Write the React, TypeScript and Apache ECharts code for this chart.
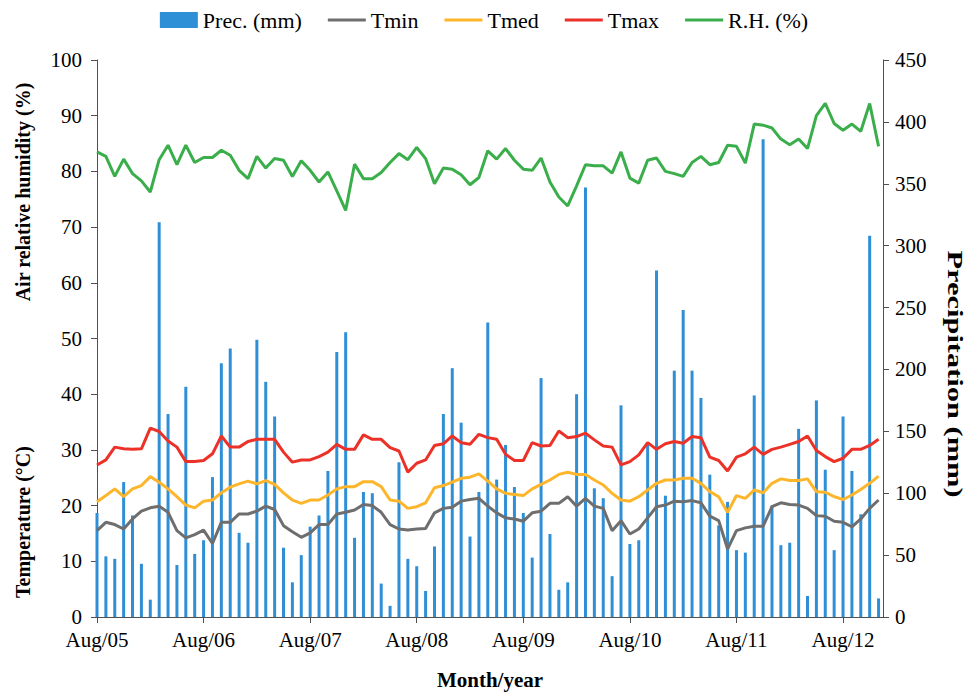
import React, { useEffect, useRef } from "react";
import * as echarts from "echarts";

// Monthly series, Aug/05 .. Dec/12 (89 months)
const precipitation = [
  84, 49, 47, 109, 82, 43, 14, 319, 164, 42, 186, 51, 62, 113, 205, 217, 68, 60, 224, 190,
  162, 56, 28, 50, 73, 82, 118, 214, 230, 64, 101, 100, 27, 9, 125, 47, 41, 21, 57, 164,
  201, 157, 65, 101, 238, 111, 139, 105, 84, 48, 193, 67, 22, 28, 180, 347, 104, 96, 33, 171,
  59, 62, 139, 280, 98, 199, 248, 199, 177, 115, 74, 93, 54, 52, 179, 386, 90, 58, 60, 152,
  17, 175, 119, 54, 162, 118, 83, 308, 15,
];
const tmin = [
  15.5, 17.0, 16.6, 15.8, 17.6, 19.0, 19.6, 19.9, 18.8, 15.5, 14.2, 14.8, 15.6, 13.2, 17.0, 17.0, 18.5, 18.5, 19.0, 19.9,
  19.3, 16.4, 15.3, 14.3, 15.1, 16.6, 16.6, 18.5, 18.8, 19.2, 20.2, 20.0, 18.8, 16.6, 15.8, 15.6, 15.8, 15.9, 18.7, 19.5,
  19.7, 20.8, 21.1, 21.3, 19.9, 18.7, 17.8, 17.6, 17.2, 18.7, 19.0, 20.4, 20.4, 21.6, 19.9, 21.3, 19.9, 19.5, 15.5, 17.3,
  14.9, 15.8, 17.8, 19.8, 20.1, 20.8, 20.7, 20.9, 20.5, 18.1, 17.3, 12.2, 15.5, 16.0, 16.3, 16.3, 19.8, 20.5, 20.2, 20.1,
  19.5, 18.2, 18.1, 17.2, 17.0, 16.2, 17.6, 19.5, 21.0,
];
const tmed = [
  20.7, 21.8, 23.0, 21.6, 23.0, 23.6, 25.2, 24.2, 23.0, 21.6, 20.1, 19.6, 20.8, 21.0, 22.3, 23.3, 23.9, 24.4, 23.9, 24.5,
  23.8, 22.3, 21.0, 20.4, 21.0, 21.0, 21.9, 23.0, 23.4, 23.4, 24.3, 24.3, 23.4, 21.0, 20.8, 19.5, 19.8, 20.5, 23.2, 23.6,
  24.2, 24.9, 25.1, 25.7, 24.4, 23.0, 22.2, 22.0, 21.8, 23.0, 23.8, 24.6, 25.6, 26.0, 25.6, 25.6, 24.6, 23.7, 22.2, 21.0,
  20.8, 21.6, 22.8, 24.0, 24.6, 24.6, 24.9, 24.9, 24.0, 22.5, 21.6, 18.8, 21.8, 21.3, 22.8, 22.3, 24.0, 24.8, 24.5, 24.5,
  24.8, 22.5, 22.4, 21.6, 21.1, 21.9, 22.9, 24.0, 25.3,
];
const tmax = [
  27.3, 28.2, 30.5, 30.2, 30.1, 30.2, 33.9, 33.3, 31.6, 30.5, 27.9, 27.9, 28.1, 29.3, 32.5, 30.5, 30.5, 31.5, 31.9, 31.9,
  31.9, 29.6, 27.8, 28.2, 28.2, 28.8, 29.6, 31.0, 30.1, 30.1, 32.7, 31.9, 31.9, 30.4, 29.8, 26.0, 27.6, 28.2, 30.8, 31.1,
  32.5, 31.3, 31.0, 32.8, 32.2, 31.9, 29.2, 28.1, 28.1, 31.3, 30.7, 30.8, 33.4, 32.2, 32.4, 33.0, 31.8, 30.7, 30.5, 27.3,
  27.9, 29.1, 31.3, 30.1, 31.1, 31.5, 31.2, 32.4, 32.2, 28.7, 28.1, 26.2, 28.7, 29.3, 30.5, 29.2, 30.1, 30.5, 31.0, 31.5,
  32.5, 29.9, 28.8, 27.9, 28.5, 30.1, 30.1, 30.8, 31.9,
];
const rh = [
  83.5, 82.7, 79.1, 82.2, 79.6, 78.3, 76.3, 82.1, 84.7, 81.2, 84.7, 81.6, 82.5, 82.5, 83.8, 82.9, 80.2, 78.7, 82.7, 80.6,
  82.3, 82.0, 79.1, 81.9, 80.2, 78.1, 79.9, 76.5, 73.0, 81.3, 78.7, 78.7, 79.8, 81.6, 83.2, 82.1, 84.3, 82.3, 77.8, 80.6,
  80.4, 79.4, 77.6, 78.9, 83.7, 82.2, 84.1, 82.0, 80.4, 80.2, 82.4, 78.1, 75.4, 73.8, 77.4, 81.2, 81.0, 81.0, 79.7, 83.5,
  78.8, 77.9, 82.0, 82.4, 80.0, 79.6, 79.1, 81.6, 82.7, 81.2, 81.6, 84.7, 84.5, 81.5, 88.5, 88.3, 87.8, 85.8, 84.8, 85.8,
  84.1, 90.0, 92.2, 88.6, 87.4, 88.5, 87.2, 92.2, 84.5,
];
const tickLabels = ["Aug/05", "Aug/06", "Aug/07", "Aug/08", "Aug/09", "Aug/10", "Aug/11", "Aug/12"];
const tickMonths = [0, 12, 24, 36, 48, 60, 72, 84];

const FONT = "'Liberation Serif', 'Times New Roman', serif";
const AXIS_COLOR = "#505050";
const LINE_ICON = "path://M0,0 L38,0 L38,3 L0,3 Z";

export default function App() {
  const ref = useRef<HTMLDivElement>(null);
  useEffect(() => {
    if (!ref.current) return;
    const chart = echarts.init(ref.current, undefined, { renderer: "svg" });
    const pairs = (arr: number[]) => arr.map((v, i) => [i, v]);
    const lineSeries = (name: string, data: number[], color: string) => ({
      name,
      type: "line",
      yAxisIndex: 0,
      data: pairs(data),
      symbol: "none",
      showSymbol: false,
      lineStyle: { width: 3, color },
      itemStyle: { color },
    });
    chart.setOption({
      animation: false,
      backgroundColor: "#ffffff",
      textStyle: { fontFamily: FONT, color: "#000" },
      legend: {
        top: 4,
        left: "center",
        itemWidth: 38,
        itemHeight: 16,
        itemGap: 26,
        selectedMode: false,
        textStyle: { fontFamily: FONT, fontSize: 22, color: "#000" },
        data: [
          { name: "Prec. (mm)", icon: "rect" },
          { name: "Tmin", icon: LINE_ICON },
          { name: "Tmed", icon: LINE_ICON },
          { name: "Tmax", icon: LINE_ICON },
          { name: "R.H. (%)", icon: LINE_ICON },
        ],
      },
      grid: { left: 97, right: 85, top: 60, bottom: 75, containLabel: false },
      xAxis: {
        type: "value",
        min: 0,
        max: 88.5,
        splitLine: { show: false },
        axisLine: { show: true, lineStyle: { color: AXIS_COLOR, width: 1 } },
        axisTick: {
          show: true,
          customValues: tickMonths,
          length: 6,
          lineStyle: { color: AXIS_COLOR },
        },
        axisLabel: {
          customValues: tickMonths,
          formatter: (v: number) => tickLabels[Math.round(v / 12)] ?? "",
          fontFamily: FONT,
          fontSize: 21,
          lineHeight: 20,
          color: "#000",
          margin: 13,
        },
        name: "Month/year",
        nameLocation: "middle",
        nameGap: 52,
        nameTextStyle: { fontFamily: FONT, fontSize: 21, fontWeight: "bold", color: "#000" },
      },
      yAxis: [
        {
          type: "value",
          min: 0,
          max: 100,
          interval: 10,
          position: "left",
          splitLine: { show: false },
          axisLine: { show: true, lineStyle: { color: AXIS_COLOR, width: 1 } },
          axisTick: { show: true, length: 6, lineStyle: { color: AXIS_COLOR } },
          axisLabel: { fontFamily: FONT, fontSize: 21, lineHeight: 16, color: "#000", margin: 15 },
        },
        {
          type: "value",
          min: 0,
          max: 450,
          interval: 50,
          position: "right",
          splitLine: { show: false },
          axisLine: { show: true, lineStyle: { color: AXIS_COLOR, width: 1 } },
          axisTick: { show: true, length: 6, lineStyle: { color: AXIS_COLOR } },
          axisLabel: { fontFamily: FONT, fontSize: 21, lineHeight: 16, color: "#000", margin: 12 },
        },
      ],
      graphic: [
        {
          type: "text",
          x: 23,
          y: 192,
          rotation: Math.PI / 2,
          style: {
            text: "Air relative humidity (%)",
            font: `bold 20px ${FONT}`,
            fill: "#000",
            align: "center",
            verticalAlign: "middle",
          },
        },
        {
          type: "text",
          x: 23,
          y: 522,
          rotation: Math.PI / 2,
          style: {
            text: "Temperature (°C)",
            font: `bold 20px ${FONT}`,
            fill: "#000",
            align: "center",
            verticalAlign: "middle",
          },
        },
        {
          type: "text",
          x: 955,
          y: 374,
          rotation: -Math.PI / 2,
          scaleX: 1.45,
          style: {
            text: "Precipitation (mm)",
            font: `bold 21px ${FONT}`,
            fill: "#000",
            align: "center",
            verticalAlign: "middle",
          },
        },
      ],
      series: [
        {
          name: "Prec. (mm)",
          type: "bar",
          yAxisIndex: 1,
          barWidth: 3,
          data: pairs(precipitation),
          itemStyle: { color: "#2E8FD6" },
        },
        lineSeries("Tmin", tmin, "#6E6E6E"),
        lineSeries("Tmed", tmed, "#FDB62B"),
        lineSeries("Tmax", tmax, "#EC3228"),
        lineSeries("R.H. (%)", rh, "#3AAE4B"),
      ],
    });
    return () => chart.dispose();
  }, []);
  return (
    <div
      ref={ref}
      style={{ position: "fixed", left: 0, top: 0, width: 968, height: 695, background: "#fff" }}
    />
  );
}
